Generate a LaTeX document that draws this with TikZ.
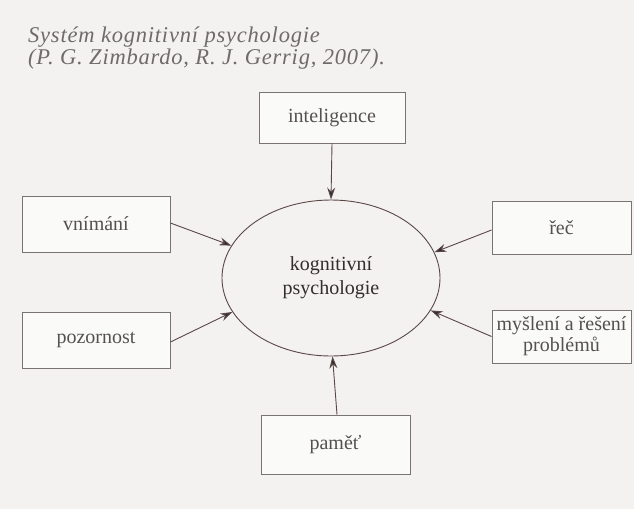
\documentclass[tikz,border=0pt]{standalone}
\usepackage{fontspec}
\setmainfont{Liberation Serif}
\newfontfamily\titlefont[LetterSpace=3.5]{Liberation Serif}
\usetikzlibrary{arrows.meta,shapes.geometric}
\definecolor{paper}{HTML}{F3F2F0}
\definecolor{boxline}{HTML}{7A7470}
\definecolor{labeltext}{HTML}{555150}
\definecolor{coretext}{HTML}{332D2D}
\definecolor{arrowline}{HTML}{5A4848}
\tikzset{
  topic/.style={draw=boxline, line width=0.9pt, fill=white!60!paper, inner sep=0pt,
    text=labeltext, font=\fontsize{20}{21}\selectfont, align=center},
  link/.style={draw=arrowline, line width=0.9pt, -{Stealth[length=12pt,width=8pt,fill=coretext]}},
}
\begin{document}
\begin{tikzpicture}[x=1pt,y=-1pt]
  \fill[paper] (0,0) rectangle (634,509);
  \useasboundingbox (0,0) rectangle (634,509);

  % heading
  \node[anchor=base west, inner sep=0pt, text=labeltext!85!white,
        font=\titlefont\itshape\fontsize{22.5}{22}\selectfont] (title1) at (28,42)
        {Systém kognitivní psychologie};
  \node[anchor=base west, inner sep=0pt, text=labeltext!85!white,
        font=\titlefont\itshape\fontsize{22.5}{22}\selectfont] (title2) at (28,64)
        {(P. G. Zimbardo, R. J. Gerrig, 2007).};

  % central ellipse
  \node[draw=arrowline, line width=0.9pt, ellipse, minimum width=218pt, minimum height=156pt,
        inner sep=0pt, text=coretext, font=\fontsize{20}{24}\selectfont, align=center]
        (core) at (331,278) {kognitivní\\psychologie};

  % surrounding boxes
  \node[topic, minimum width=146pt, minimum height=51pt] (intel) at (332,117.5) {inteligence};
  \node[topic, minimum width=148pt, minimum height=56pt] (vnim) at (96,224) {vnímání};
  \node[topic, minimum width=148pt, minimum height=56pt] (pozor) at (96,340) {pozornost};
  \node[topic, minimum width=139pt, minimum height=53pt] (rec) at (561.5,227.5) {řeč};
  \node[topic, minimum width=139pt, minimum height=53pt]
        (mysl) at (561.5,336.5) {myšlení a řešení\\problémů};
  \node[topic, minimum width=149pt, minimum height=59pt] (pamet) at (335.5,444.5) {paměť};

  % connectors
  \draw[link] (intel.south) -- (core.north);
  \draw[link] ([yshift=1pt]vnim.east) -- (core.162);
  \draw[link] ([yshift=-2pt]pozor.east) -- (core.199);
  \draw[link] ([yshift=-2.5pt]rec.west) -- (core.14);
  \draw[link] (mysl.west) -- (core.-18);
  \draw[link] ([xshift=1.5pt]pamet.north) -- ([xshift=1.5pt]core.south);
\end{tikzpicture}
\end{document}
